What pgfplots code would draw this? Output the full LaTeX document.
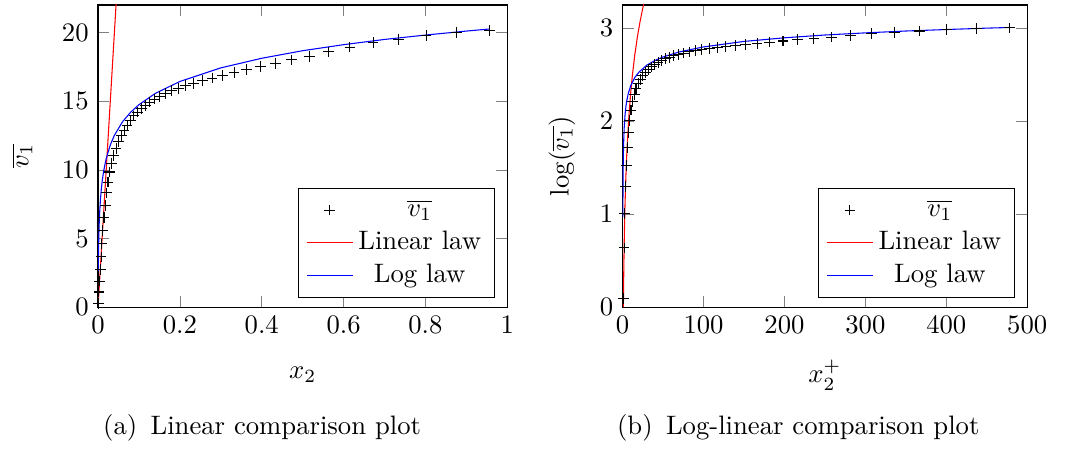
\documentclass[border=0pt]{standalone}
\usepackage{pgfplots}
\pgfplotsset{compat=1.18}
\begin{document}
\begin{tikzpicture}
\useasboundingbox (0pt,0pt) rectangle (400pt,168pt);
\pgfplotsset{
  myax/.style={scale only axis, height=113.25pt, legend pos=south east,
    legend cell align=center,
    xlabel style={anchor=center}, ylabel style={anchor=center}},
}
\begin{axis}[myax, at={(36.75pt,52.875pt)}, anchor=south west, width=153.4pt,
  xmin=0, xmax=1, ymin=0, ymax=22,
  xtick={0,0.2,0.4,0.6,0.8,1}, ytick={0,5,10,15,20},
  xlabel={$x_2$}, ylabel={$\overline{v_1}$},
  xlabel style={at={(rel axis cs:0.5,-0.225)}},
  ylabel style={at={(rel axis cs:-0.186,0.5)}}]
\addplot[only marks, mark=+, black] coordinates {
(0.00054,0.27) (0.0022,1.10) (0.0038,1.89) (0.00552,2.74) (0.00744,3.65)
(0.0096,4.60) (0.012,5.57) (0.0146,6.52) (0.0175,7.42) (0.0208,8.32)
(0.0244,9.10) (0.0286,9.84) (0.0332,10.48) (0.0384,11.06) (0.044,11.57)
(0.050,12.04) (0.0566,12.48) (0.0636,12.88) (0.0712,13.25) (0.0792,13.60)
(0.0878,13.92) (0.0966,14.20) (0.1058,14.46) (0.1156,14.70) (0.1262,14.93)
(0.1378,15.15) (0.1506,15.36) (0.1644,15.56) (0.1796,15.75) (0.196,15.94)
(0.214,16.12) (0.2338,16.30) (0.2552,16.49) (0.2788,16.68) (0.3044,16.88)
(0.3324,17.08) (0.363,17.29) (0.3964,17.51) (0.433,17.75) (0.4728,18.00)
(0.5162,18.26) (0.5638,18.58) (0.6156,18.93) (0.6722,19.25) (0.7342,19.50)
(0.8016,19.80) (0.8754,20.02) (0.956,20.15)};
\addplot[red] coordinates {(0,0) (0.05,25)};
\addplot[blue] coordinates {
(0.0007,2.64) (0.001,3.51) (0.0015,4.50) (0.002,5.20) (0.003,6.19) (0.004,6.89)
(0.006,7.88) (0.008,8.58) (0.010,9.13) (0.014,9.95) (0.020,10.82) (0.030,11.81)
(0.040,12.51) (0.060,13.50) (0.080,14.20) (0.100,14.74) (0.140,15.56)
(0.200,16.43) (0.300,17.42) (0.400,18.12) (0.500,18.67) (0.600,19.11)
(0.700,19.49) (0.800,19.81) (0.900,20.10) (0.956,20.25)};
\legend{$\overline{v_1}$, Linear law, Log law}
\end{axis}
\begin{axis}[myax, at={(233.4pt,52.875pt)}, anchor=south west, width=151.7pt,
  xmin=0, xmax=500, ymin=0, ymax=3.25,
  xtick={0,100,200,300,400,500}, ytick={0,1,2,3},
  xlabel={$x_2^+$}, ylabel={$\log(\overline{v_1})$},
  xlabel style={at={(rel axis cs:0.5,-0.225)}},
  ylabel style={at={(rel axis cs:-0.1496,0.5)}}]
\addplot[only marks, mark=+, black] coordinates {
(1.10,0.0953) (1.90,0.6366) (2.76,1.0080) (3.72,1.2947)
(4.80,1.5261) (6.00,1.7174) (7.30,1.8749) (8.75,2.0042) (10.4,2.1187)
(12.2,2.2083) (14.3,2.2865) (16.6,2.3495) (19.2,2.4033) (22.0,2.4484)
(25.0,2.4882) (28.3,2.5241) (31.8,2.5557) (35.6,2.5840) (39.6,2.6101)
(43.9,2.6333) (48.3,2.6532) (52.9,2.6713) (57.8,2.6878) (63.1,2.7034)
(68.9,2.7180) (75.3,2.7318) (82.2,2.7447) (89.8,2.7568) (98.0,2.7688)
(107.0,2.7801) (116.9,2.7912) (127.6,2.8028) (139.4,2.8142) (152.2,2.8261)
(166.2,2.8379) (181.5,2.8501) (198.2,2.8628) (216.5,2.8764) (236.4,2.8904)
(258.1,2.9047) (281.9,2.9221) (307.8,2.9407) (336.1,2.9575) (367.1,2.9704)
(400.8,2.9857) (437.7,2.9967) (478.0,3.0032)};
\addplot[red] coordinates {
(1,0) (1.25,0.223) (1.5,0.405) (2,0.693) (2.5,0.916) (3,1.099) (4,1.386)
(5,1.609) (6,1.792) (8,2.079) (10,2.303) (12,2.485) (15,2.708) (18,2.890)
(21,3.045) (25,3.219) (28,3.332)};
\addplot[blue] coordinates {
(0.35,0.971) (0.5,1.256) (0.75,1.504) (1,1.649) (1.5,1.823) (2,1.930)
(3,2.064) (4,2.149) (5,2.212) (7,2.298) (10,2.381) (15,2.469) (20,2.526)
(30,2.603) (40,2.653) (50,2.691) (70,2.745) (100,2.799) (150,2.858)
(200,2.897) (250,2.927) (300,2.950) (350,2.970) (400,2.986) (450,3.001)
(478,3.008)};
\legend{$\overline{v_1}$, Linear law, Log law}
\end{axis}
\node at (98.25pt,7.5pt) {(a)\enspace Linear comparison plot};
\node at (299.25pt,7.5pt) {(b)\enspace Log-linear comparison plot};
\end{tikzpicture}
\end{document}
